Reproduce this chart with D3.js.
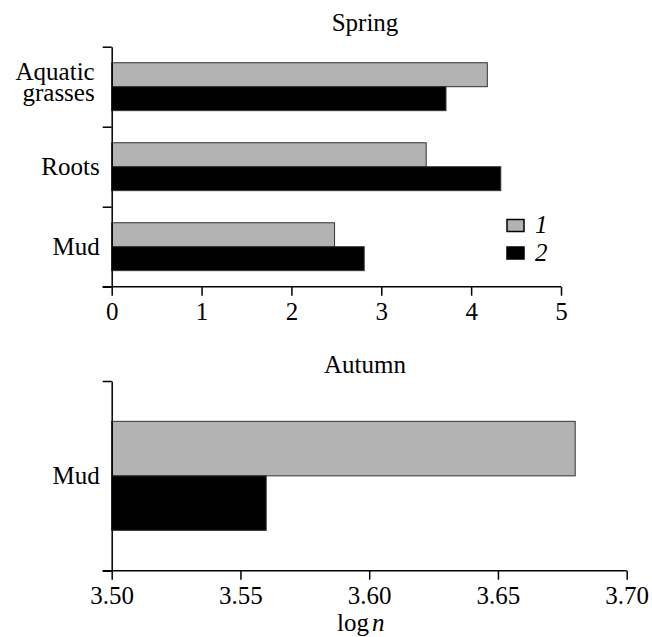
<!DOCTYPE html>
<meta charset="utf-8">
<style>
body { margin: 0; background: #fff; }
svg text { font-family: "Liberation Serif", "Noto Serif", "DejaVu Serif", "Times New Roman", Times, serif; font-size: 25px; fill: #000; }
.axis path, .axis line { stroke: #000; stroke-width: 1.5px; }
.axis text { font-family: "Liberation Serif", "Noto Serif", "DejaVu Serif", "Times New Roman", Times, serif; font-size: 25px; }
.bar { stroke: #333; stroke-width: 1px; }
</style>
<svg width="652" height="637"></svg>
<script src="https://d3js.org/d3.v7.min.js"></script>
<script>

////////// Data //////////
var seriesKeys = ["1", "2"];
var seriesColors = ["#b3b3b3", "#000000"];

var springCategories = ["Aquatic grasses", "Roots", "Mud"];
var springSeries1 = [4.18, 3.50, 2.48];
var springSeries2 = [3.72, 4.33, 2.81];
var springTicks = [0, 1, 2, 3, 4, 5];

var autumnCategories = ["Mud"];
var autumnSeries1 = [3.68];
var autumnSeries2 = [3.56];
var autumnTicks = [3.50, 3.55, 3.60, 3.65, 3.70];

var svg = d3.select("svg");

var color = d3.scaleOrdinal().domain(seriesKeys).range(seriesColors);

function buildRows(cats, s1, s2) {
  return cats.map(function(c, i) {
    return { cat: c, values: [{ key: "1", v: s1[i] }, { key: "2", v: s2[i] }] };
  });
}

////////// Panel drawing //////////
function panel(opt) {
  var g = svg.append("g");

  var x = d3.scaleLinear().domain(opt.xDomain).range([opt.left, opt.right]);
  var y = d3.scaleBand().domain(opt.rows.map(function(d) { return d.cat; }))
      .range([opt.top, opt.bottom]).padding(0);
  var yTicks = d3.scaleLinear().domain([0, opt.rows.length]).range([opt.top, opt.bottom]);
  var ySub = d3.scaleBand().domain(seriesKeys)
      .range([0, y.bandwidth()]).paddingInner(0).paddingOuter(opt.outerPad);

  // bars
  var grp = g.selectAll(".grp")
    .data(opt.rows)
    .enter().append("g")
      .attr("transform", function(d) { return "translate(0," + y(d.cat) + ")"; });

  grp.selectAll("rect")
    .data(function(d) { return d.values; })
    .enter().append("rect")
      .attr("class", "bar")
      .attr("x", x(opt.xDomain[0]))
      .attr("y", function(d) { return ySub(d.key); })
      .attr("width", function(d) { return x(d.v) - x(opt.xDomain[0]); })
      .attr("height", ySub.bandwidth())
      .attr("fill", function(d) { return color(d.key); });

  // x axis
  g.append("g")
      .attr("class", "axis")
      .attr("transform", "translate(0," + opt.bottom + ")")
      .call(d3.axisBottom(x).tickValues(opt.ticks).tickFormat(opt.fmt)
            .tickSize(9).tickSizeOuter(0).tickPadding(7))
      .call(function(a) { a.select(".domain").attr("d", "M" + (opt.left - 9) + ",0H" + opt.right); });

  // y axis, ticks between categories
  g.append("g")
      .attr("class", "axis")
      .attr("transform", "translate(" + opt.left + ",0)")
      .call(d3.axisLeft(yTicks).tickValues(d3.range(opt.rows.length + 1)).tickFormat("")
            .tickSize(9).tickSizeOuter(0));

  // category labels
  opt.rows.forEach(function(d) {
    var words = d.cat === "Aquatic grasses" ? ["Aquatic", "grasses"] : [d.cat];
    var xPos = opt.left - (words.length > 1 ? 17 : 12);
    var cy = y(d.cat) + y.bandwidth() / 2;
    words.forEach(function(w, i) {
      g.append("text")
          .attr("text-anchor", "end")
          .attr("x", xPos)
          .attr("y", words.length > 1 ? cy - 7 + i * 21.5 : cy + 8)
          .text(w);
    });
  });

  // title
  g.append("text")
      .attr("x", 365)
      .attr("y", opt.titleY)
      .attr("text-anchor", "middle")
      .text(opt.title);

  return g;
}

panel({
  rows: buildRows(springCategories, springSeries1, springSeries2),
  xDomain: [0, 5], ticks: springTicks, fmt: d3.format("d"),
  left: 111.7, right: 561, top: 46.7, bottom: 286.7,
  outerPad: 0.67, title: "Spring", titleY: 31
});

var autumn = panel({
  rows: buildRows(autumnCategories, autumnSeries1, autumnSeries2),
  xDomain: [3.5, 3.7], ticks: autumnTicks, fmt: d3.format(".2f"),
  left: 111.7, right: 626.7, top: 381, bottom: 570.7,
  outerPad: 0.74, title: "Autumn", titleY: 373
});

// x label: "log" upright, "n" italic
autumn.append("text")
    .attr("x", 369)
    .attr("y", 631)
    .attr("text-anchor", "end")
    .text("log");
autumn.append("text")
    .attr("x", 372)
    .attr("y", 631)
    .attr("font-style", "italic")
    .text("n");

////////// Legend //////////
var legend = svg.append("g").selectAll("g")
    .data(seriesKeys)
    .enter().append("g")
    .attr("transform", function(d, i) { return "translate(507," + (219.5 + i * 27.5) + ")"; });

legend.append("rect")
    .attr("width", 17)
    .attr("height", 12)
    .attr("fill", function(d) { return color(d); })
    .attr("stroke", "#000")
    .attr("stroke-width", 1.5);

legend.append("text")
    .attr("x", 28)
    .attr("y", 13.5)
    .attr("font-style", "italic")
    .text(function(d) { return d; });

</script>
